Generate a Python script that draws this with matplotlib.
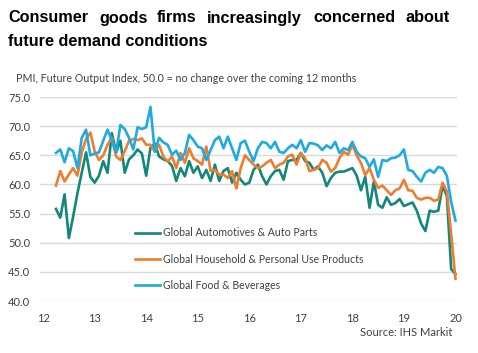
import pandas as pd
import matplotlib
matplotlib.use('Agg')
import matplotlib.pyplot as plt

# Monthly data, Apr 2012 - Jan 2020
months = pd.date_range('2012-04-01', periods=94, freq='MS')

auto_parts = [
    55.8, 54.3, 58.3, 50.8, 54.5, 58.5, 62.0, 65.5, 61.3,
    60.3, 61.5, 64.0, 62.0, 68.8, 65.5, 67.5, 62.0, 64.3, 65.0, 66.0, 65.3,
    61.5, 66.3, 67.0, 64.8, 64.3, 64.0, 63.2, 60.6, 62.8, 61.4, 64.0, 62.0,
    63.1, 61.1, 62.5, 60.6, 63.4, 60.6, 62.3, 62.8, 60.3, 62.0, 60.8, 60.0,
    60.3, 62.5, 63.4, 61.4, 60.0, 61.4, 62.3, 62.5, 60.8, 64.0, 64.2, 64.2,
    65.4, 64.0, 63.7, 62.5, 63.1, 62.0, 59.7, 61.1, 62.0, 62.2, 62.2, 62.5,
    62.8, 61.5, 59.0, 61.3, 56.0, 60.5, 56.5, 56.0, 57.8, 56.5, 56.8, 57.5,
    56.3, 56.6, 56.9, 55.5, 53.3, 52.0, 55.5, 55.3, 55.5, 59.8, 58.0, 45.5,
    44.6,
]
household = [
    59.8, 62.3, 60.5, 61.7, 62.8, 61.5, 65.5, 67.8, 68.9,
    65.7, 64.2, 65.0, 66.8, 68.0, 64.8, 64.2, 65.7, 67.5, 67.8, 67.6, 67.9,
    66.8, 66.8, 65.7, 66.8, 64.8, 63.9, 64.8, 62.8, 65.4, 63.7, 66.2, 64.5,
    64.0, 63.4, 66.5, 62.3, 62.5, 61.7, 61.7, 61.1, 62.3, 59.3, 62.8, 65.0,
    64.2, 63.4, 62.8, 63.1, 63.7, 64.2, 62.8, 63.4, 63.7, 64.8, 65.1, 63.4,
    65.4, 64.5, 62.3, 62.5, 62.8, 64.2, 63.7, 62.2, 62.8, 64.5, 65.6, 65.1,
    66.8, 65.0, 63.7, 61.6, 62.8, 60.8, 59.4, 59.8, 59.0, 58.2, 59.0, 59.3,
    60.8, 59.0, 58.9, 57.7, 57.4, 57.7, 57.7, 57.2, 57.4, 60.3, 58.8, 51.5,
    43.8,
]
food_bev = [
    65.4, 66.0, 63.8, 66.2, 65.7, 62.8, 68.0, 69.4, 65.0,
    65.3, 65.5, 67.5, 69.4, 67.5, 65.5, 70.2, 69.5, 68.0, 66.0, 69.8, 69.5,
    69.8, 73.3, 65.6, 68.0, 67.2, 66.8, 65.1, 65.8, 64.2, 65.4, 68.5, 67.6,
    66.5, 66.2, 64.2, 65.9, 67.6, 68.2, 66.2, 68.2, 66.2, 64.2, 67.1, 67.5,
    65.6, 64.0, 66.2, 67.3, 67.1, 66.2, 67.3, 65.6, 65.4, 66.2, 66.8, 66.2,
    67.6, 65.6, 67.1, 67.0, 66.7, 65.9, 66.7, 66.2, 67.3, 65.4, 66.2, 65.9,
    67.3, 65.6, 64.8, 64.5, 63.0, 64.3, 61.3, 64.2, 64.0, 64.5, 64.6, 65.0,
    66.0, 62.5, 62.3, 61.3, 60.5, 62.0, 62.5, 62.0, 63.0, 62.8, 61.5, 57.0,
    53.8,
]

series_names = [
    'Global Automotives & Auto Parts',
    'Global Household & Personal Use Products',
    'Global Food & Beverages',
]
series_colors = ['#12877a', '#ef7d2e', '#1eaae2']

year_ticks = [12, 13, 14, 15, 16, 17, 18, 19, 20]
y_ticks = [40, 45, 50, 55, 60, 65, 70, 75]

# fractional two-digit year for each month
xpos = (months.year - 2000) + (months.month - 1) / 12.0

W, H = 478, 353
fig = plt.figure(figsize=(W / 100, H / 100), dpi=100)
ax = fig.add_axes([40 / W, 1 - 301 / H, (457 - 40) / W, (301 - 97) / H])

for vals, name, col in zip([auto_parts, household, food_bev], series_names, series_colors):
    ax.plot(xpos, vals, color=col, linewidth=1.9, label=name, solid_joinstyle='round')

ax.set_xlim(11.94, 20.03)
ax.set_ylim(40, 75)
ax.set_yticks(y_ticks)
ax.set_yticklabels([f'{v:.1f}' for v in y_ticks])
ax.set_xticks(year_ticks)
ax.set_xticklabels([str(v) for v in year_ticks])
ax.grid(axis='y', color='#d9d9d9', linewidth=1.0)
ax.set_axisbelow(True)
for s in ax.spines.values():
    s.set_visible(False)
ax.tick_params(length=0, labelsize=8, colors='#404040')
ax.tick_params(axis='y', pad=7)
ax.tick_params(axis='x', pad=9)
for lab in ax.get_xticklabels() + ax.get_yticklabels():
    lab.set_fontfamily('Lato')

leg = ax.legend(loc='upper left', bbox_to_anchor=(125 / W, 1 - 218 / H),
                bbox_transform=fig.transFigure, frameon=False,
                handlelength=2.4, handletextpad=0.3, labelspacing=1.45,
                prop={'family': 'Lato', 'size': 7.6})
for t in leg.get_texts():
    t.set_color('#404040')

# Title, first line justified across the width
title_words = ['Consumer', 'goods', 'firms', 'increasingly', 'concerned', 'about']
word_x = [8, 99, 157, 207, 313, 405]
for w, x in zip(title_words, word_x):
    fig.text(x / W, 1 - 18 / H, w, fontsize=11.7, fontweight='bold',
             family='Liberation Sans', va='center', ha='left')
fig.text(8 / W, 1 - 42 / H, 'future demand conditions', fontsize=11.7,
         fontweight='bold', family='Liberation Sans', va='center', ha='left')

fig.text(16 / W, 1 - 79 / H,
         'PMI, Future Output Index, 50.0 = no change over the coming 12 months',
         fontsize=7.7, family='Lato', color='#404040', va='center', ha='left')
fig.text(452 / W, 1 - 332 / H, 'Source: IHS Markit', fontsize=8,
         family='Lato', color='#404040', va='center', ha='right')

fig.savefig('out.png', dpi=100)
